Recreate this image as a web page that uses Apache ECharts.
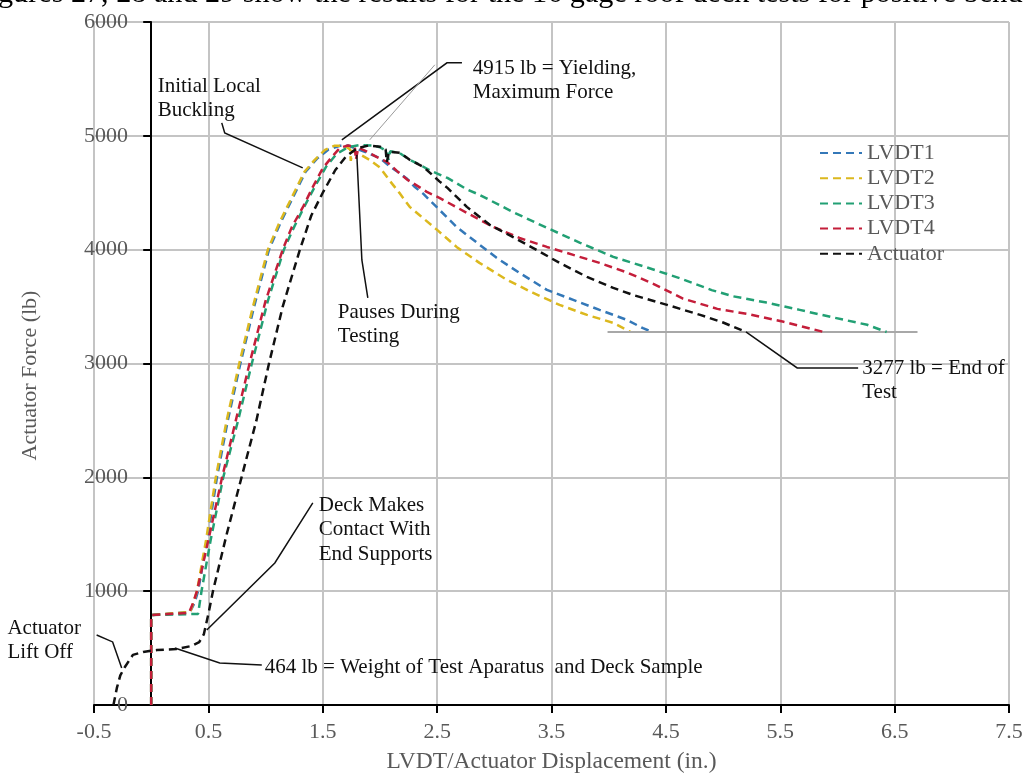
<!DOCTYPE html>
<html><head><meta charset="utf-8">
<script src="https://cdn.jsdelivr.net/npm/echarts@6/dist/echarts.min.js"></script>
<style>html,body{margin:0;padding:0;background:#fff}#c{width:1029px;height:776px}</style>
</head><body><div id="c"></div>
<script>
// ---------- data ----------
const seriesNames = ['LVDT1', 'LVDT2', 'LVDT3', 'LVDT4', 'Actuator'];
const xTicks = { min: -0.5, max: 7.5, step: 1 };
const yTicks = { min: 0, max: 6000, step: 1000 };

const lvdt1 = [[0,0],[0,790],[0.34,817],[0.38,900],[0.41,1000],[0.49,1450],[0.575,2000],[0.67,2500],[0.78,3000],[0.90,3500],[1.03,4000],[1.13,4235],[1.25,4481],[1.35,4684],[1.45,4800],[1.55,4880],[1.65,4912],[1.72,4915],[1.80,4885],[1.89,4850],[2.0,4805],[2.09,4728],[2.16,4680],[2.24,4620],[2.30,4555],[2.38,4490],[2.52,4350],[2.67,4200],[2.85,4060],[3.02,3928],[3.22,3796],[3.46,3647],[3.69,3559],[3.92,3471],[4.16,3383],[4.30,3310],[4.38,3277]];
const lvdt2 = [[0,0],[0,790],[0.34,817],[0.37,900],[0.40,1000],[0.48,1450],[0.565,2000],[0.66,2500],[0.77,3000],[0.89,3500],[1.02,4000],[1.12,4235],[1.24,4481],[1.34,4684],[1.43,4789],[1.52,4877],[1.60,4912],[1.69,4915],[1.74,4880],[1.745,4780],[1.76,4870],[1.82,4840],[1.91,4789],[2.0,4722],[2.09,4600],[2.17,4499],[2.26,4376],[2.35,4300],[2.50,4174],[2.67,4024],[2.87,3884],[3.11,3735],[3.34,3620],[3.57,3515],[3.81,3427],[4.04,3357],[4.19,3277]];
const lvdt3 = [[0,0],[0,790],[0.41,800],[0.44,1000],[0.52,1450],[0.63,2000],[0.76,2500],[0.88,3000],[1.02,3550],[1.16,4000],[1.25,4200],[1.35,4400],[1.44,4570],[1.53,4730],[1.62,4840],[1.72,4900],[1.82,4918],[1.94,4915],[2.0,4900],[2.06,4865],[2.075,4790],[2.09,4865],[2.17,4850],[2.26,4790],[2.35,4745],[2.44,4695],[2.59,4630],[2.76,4530],[2.87,4482],[3.16,4332],[3.46,4192],[3.75,4060],[4.04,3937],[4.33,3845],[4.62,3750],[4.90,3645],[5.09,3590],[5.38,3535],[5.67,3471],[5.96,3405],[6.26,3340],[6.43,3277]];
const lvdt4 = [[0,0],[0,790],[0.33,810],[0.36,880],[0.40,1000],[0.50,1450],[0.62,2000],[0.74,2500],[0.86,3000],[1.0,3550],[1.15,4000],[1.23,4200],[1.33,4380],[1.41,4545],[1.50,4715],[1.58,4815],[1.65,4895],[1.72,4915],[1.78,4905],[1.79,4790],[1.81,4895],[1.89,4860],[1.97,4815],[2.06,4772],[2.15,4690],[2.24,4614],[2.32,4565],[2.41,4508],[2.52,4455],[2.76,4323],[2.99,4200],[3.22,4103],[3.46,4024],[3.69,3954],[3.92,3884],[4.16,3800],[4.39,3700],[4.65,3570],[4.95,3480],[5.24,3430],[5.53,3366],[5.75,3310],[5.88,3277]];
const actuator = [[-0.33,0],[-0.30,150],[-0.27,260],[-0.23,334],[-0.16,440],[-0.07,466],[0.05,483],[0.22,492],[0.35,518],[0.42,553],[0.46,620],[0.50,800],[0.54,1000],[0.66,1500],[0.79,2000],[0.92,2500],[1.03,3000],[1.15,3500],[1.30,4000],[1.40,4300],[1.50,4500],[1.61,4700],[1.70,4815],[1.80,4890],[1.90,4915],[2.0,4905],[2.05,4880],[2.06,4770],[2.08,4860],[2.18,4850],[2.26,4790],[2.38,4727],[2.52,4600],[2.59,4543],[2.76,4376],[2.96,4218],[3.16,4112],[3.37,3998],[3.57,3884],[3.81,3761],[4.04,3664],[4.21,3603],[4.51,3515],[4.80,3427],[5.0,3360],[5.2,3277]];
const endOfTestLine = { y: 3277, from: 3.99, to: 6.7 };

const topText = 'gures 27, 28 and 29 show the results for the 16 gage roof deck tests for positive bend';
const annotations = [
  { text: 'Initial Local\nBuckling', at: [0.057, 5545], leader: [[0.617,5114],[0.643,5026],[1.325,4719]] },
  { text: '4915 lb = Yielding,\nMaximum Force', at: [2.812, 5703], leader: [[2.717,5641],[2.586,5641],[1.667,4965]], thin: [[2.48,5624],[1.911,4965]] },
  { text: 'Pauses During\nTesting', at: [1.632, 3559], leader: [[1.894,3576],[1.842,3910],[1.798,4833]] },
  { text: '3277 lb = End of\nTest', at: [6.217, 3067], leader: [[6.181,2961],[5.648,2961],[5.2,3277]] },
  { text: 'Deck Makes\nContact With\nEnd Supports', at: [1.465, 1863], leader: [[1.413,1775],[1.081,1248],[0.486,659]] },
  { text: 'Actuator\nLift Off', at: [-1.257, 782], leader: [[-0.477,615],[-0.337,554],[-0.258,325]] },
  { text: '464 lb = Weight of Test Aparatus  and Deck Sample', at: [0.993, 439], leader: [[0.967,351],[0.599,369],[0.206,501]] }
];

// ---------- styles ----------
const SERIF = '"Liberation Serif", "Times New Roman", serif';
const colors = ['#3478b8', '#dcb81e', '#22a074', '#c41e3a', '#111111'];
const seriesData = [lvdt1, lvdt2, lvdt3, lvdt4, actuator];
const GRAY = '#595959';

const chart = echarts.init(document.getElementById('c'), null, { renderer: 'canvas' });

function axisPair(t, extra) {
  const main = Object.assign({
    type: 'value', min: t.min, max: t.max, interval: t.step,
    axisLine: { show: true, onZero: true, lineStyle: { color: '#000', width: 2 } },
    axisTick: { show: true, length: 8, lineStyle: { color: '#000', width: 2 } },
    splitLine: { show: true, lineStyle: { color: '#c4c4c4', width: 2 } },
    nameLocation: 'middle'
  }, extra);
  const inner = {
    type: 'value', min: t.min, max: t.max, interval: t.step,
    axisLine: { show: false, onZero: true, onZeroAxisIndex: 0 },
    axisTick: { show: true, inside: true, length: 8, lineStyle: { color: '#000', width: 2 } },
    axisLabel: { show: false }, splitLine: { show: false }
  };
  return [main, inner];
}

const xAxes = axisPair(xTicks, { name: 'LVDT/Actuator Displacement (in.)', nameGap: 45,
  nameTextStyle: { color: GRAY, fontSize: 23.5, fontFamily: SERIF },
  axisLabel: { color: GRAY, fontSize: 22, fontFamily: SERIF, margin: 16, showMinLabel: true, showMaxLabel: true, formatter: v => String(v) } });
const yAxes = axisPair(yTicks, { name: 'Actuator Force (lb)', nameGap: 53,
  nameTextStyle: { color: GRAY, fontSize: 22, fontFamily: SERIF, padding: [0, 24, 0, 0] },
  axisLabel: { color: GRAY, fontSize: 22, fontFamily: SERIF, margin: -34, showMinLabel: true, showMaxLabel: true, formatter: v => String(v) } });

const series = seriesNames.map((n, i) => ({
  name: n, type: 'line', data: seriesData[i], symbol: 'none', showSymbol: false,
  color: colors[i], z: 3 + i,
  lineStyle: { color: colors[i], width: 2.5, type: [8, 5] },
  emphasis: { disabled: true }, silent: true
}));
series[0].markLine = {
  silent: true, symbol: ['none', 'none'], label: { show: false },
  lineStyle: { color: '#a8a8a8', type: 'solid', width: 2 },
  data: [[{ coord: [endOfTestLine.from, endOfTestLine.y] }, { coord: [endOfTestLine.to, endOfTestLine.y] }]]
};

chart.setOption({
  animation: false,
  backgroundColor: '#fff',
  grid: { left: 94, right: 20, top: 22, bottom: 71, containLabel: false, outerBoundsMode: 'none' },
  xAxis: xAxes,
  yAxis: yAxes,
  legend: {
    orient: 'vertical', left: 814, top: 137, itemWidth: 42, itemHeight: 14, itemGap: 3.2,
    itemStyle: { opacity: 0 },
    textStyle: { color: GRAY, fontSize: 22, fontFamily: SERIF },
    data: seriesNames
  },
  series: series
});

// annotations placed through the chart's own coordinate system
const px = p => chart.convertToPixel({ xAxisIndex: 0, yAxisIndex: 0 }, p);
const graphics = [{
  type: 'text', left: -2, top: -21, z: 100,
  style: { text: topText, fill: '#000', font: '30.2px ' + SERIF }
}];
annotations.forEach(a => {
  const p = px(a.at);
  graphics.push({ type: 'text', x: p[0], y: p[1], z: 100,
    style: { text: a.text, fill: '#111', font: '21px ' + SERIF, lineHeight: 24.5, verticalAlign: 'top', align: 'left' } });
  graphics.push({ type: 'polyline', z: 99, shape: { points: a.leader.map(px) },
    style: { stroke: '#111', lineWidth: 1.5, fill: null } });
  if (a.thin) graphics.push({ type: 'polyline', z: 99, shape: { points: a.thin.map(px) },
    style: { stroke: '#9a9a9a', lineWidth: 1, fill: null } });
});
chart.setOption({ graphic: graphics });
</script>
</body></html>
